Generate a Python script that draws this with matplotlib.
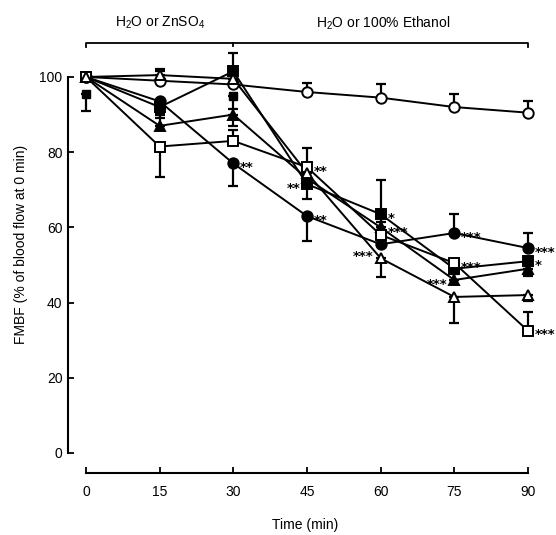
import matplotlib
matplotlib.use("Agg")
import matplotlib.pyplot as plt
import numpy as np

plt.rcParams['font.family'] = ['Liberation Sans', 'DejaVu Sans']
plt.rcParams['mathtext.fontset'] = 'custom'
plt.rcParams['mathtext.rm'] = 'Liberation Sans'
plt.rcParams['mathtext.it'] = 'Liberation Sans'

# time points (min)
t = [0, 15, 30, 45, 60, 75, 90]

# FMBF values (% of 0 min)
open_circle = [100, 99, 98, 96, 94.5, 92, 90.5]
filled_circle = [100, 93.5, 77, 63, 55.5, 58.5, 54.5]
filled_square = [100, 92, 101.5, 71.5, 63.5, 49, 51]
filled_tri = [100, 87, 90, 73, 60, 46, 49]
open_square = [100, 81.5, 83, 76, 58, 50.5, 32.5]
open_tri = [100, 100.5, 99.5, 74.5, 51.8, 41.5, 42]

# one-sided SEM bars: (down, up)
open_circle_err = ([0, 0, 0, 0, 0, 0, 0], [0, 2.5, 0, 2.5, 3.5, 3.5, 3])
filled_circle_err = ([0, 3, 6, 6.5, 0, 0, 0], [0, 0, 0, 0, 0, 5, 4])
filled_square_err = ([0, 3, 0, 4, 2, 3, 2], [0, 0, 5, 0, 9, 0, 0])
filled_tri_err = ([0, 0, 3, 0, 0, 0, 2], [0, 3, 0, 0, 3, 3, 0])
open_square_err = ([0, 8, 0, 0, 0, 3, 0], [0, 0, 3, 5, 0, 0, 5])
open_tri_err = ([0, 0, 0, 0, 5, 7, 1.5], [0, 1.5, 0, 0, 0, 0, 0])

# unconnected points (second marker at 0 and 30 min)
extra_t = [0, 30]
extra_v = [95.5, 95]
extra_err = [4.5, 3.5]

# significance marks: (time, value, text, side)
stars = [
    (30, 77, '**', 'r'),
    (45, 76, '**', 'r'), (45, 71.5, '**', 'l'), (45, 63, '**', 'r'),
    (60, 63.5, '*', 'r'), (60, 59.8, '***', 'r'), (60, 53.4, '***', 'l'),
    (75, 58.5, '***', 'r'), (75, 50.5, '***', 'r'), (75, 46, '***', 'l'),
    (90, 54.5, '***', 'r'), (90, 51, '*', 'r'), (90, 32.5, '***', 'r'),
]

fig = plt.figure(figsize=(5.56, 5.35), dpi=100)
ax = fig.add_axes([0.1223, 0.1159, 0.8538, 0.8527])

series = [
    (open_circle, open_circle_err, 'o', 'white'),
    (filled_circle, filled_circle_err, 'o', 'black'),
    (filled_square, filled_square_err, 's', 'black'),
    (filled_tri, filled_tri_err, '^', 'black'),
    (open_square, open_square_err, 's', 'white'),
    (open_tri, open_tri_err, '^', 'white'),
]

for vals, err, mk, fc in series:
    ax.errorbar(t, vals, yerr=[err[0], err[1]], fmt='none', ecolor='black',
                elinewidth=1.6, capsize=3.5, capthick=1.6, zorder=2, clip_on=False)
    ax.plot(t, vals, color='black', lw=1.4, zorder=3, clip_on=False)

ax.errorbar(extra_t, extra_v, yerr=[extra_err, [0, 0]], fmt='none', ecolor='black',
            elinewidth=1.6, capsize=3.5, capthick=1.6, zorder=2, clip_on=False)
ax.plot(extra_t, extra_v, 's', ms=6, color='black', ls='none', zorder=4, clip_on=False)

for vals, err, mk, fc in series:
    ms = 7.5 if mk == 'o' else 6.5
    if mk == '^':
        ms = 7
    ax.plot(t, vals, marker=mk, ls='none', ms=ms, mfc=fc, mec='black',
            mew=1.4, zorder=5, clip_on=False)

for x, y, s, side in stars:
    if side == 'r':
        ax.annotate(s, (x, y), xytext=(5, -3), textcoords='offset points',
                    ha='left', va='center', fontsize=9.5, fontweight='bold',
                    family='DejaVu Sans')
    else:
        ax.annotate(s, (x, y), xytext=(-5, -3), textcoords='offset points',
                    ha='right', va='center', fontsize=9.5, fontweight='bold',
                    family='DejaVu Sans')

# treatment bracket on top
ax.plot([0, 0, 90, 90], [108, 109, 109, 108], color='black', lw=1.3, clip_on=False)
ax.plot([30, 30], [109, 108.2], color='black', lw=1.3, clip_on=False)
ax.text(15, 114.4, r'H$_2$O or ZnSO$_4$', ha='center', va='center', fontsize=10)
ax.text(60.5, 114.4, r'H$_2$O or 100% Ethanol', ha='center', va='center', fontsize=10)

ax.set_xlim(-3.66, 93)
ax.set_ylim(-5.32, 116)
ax.spines['top'].set_visible(False)
ax.spines['right'].set_visible(False)
ax.spines['bottom'].set_bounds(0, 90)
ax.spines['left'].set_bounds(0, 100)
ax.spines['bottom'].set_linewidth(1.5)
ax.spines['left'].set_linewidth(1.5)

ax.set_xticks(t)
ax.set_yticks([0, 20, 40, 60, 80, 100])
ax.tick_params(direction='in', length=4, width=1.3, labelsize=10)
ax.tick_params(axis='x', pad=9)
ax.tick_params(axis='y', pad=4)

ax.set_xlabel('Time (min)', fontsize=10, labelpad=13)
ax.set_ylabel('FMBF (% of blood flow at 0 min)', fontsize=10, labelpad=8)

fig.savefig('out.png', dpi=100)
